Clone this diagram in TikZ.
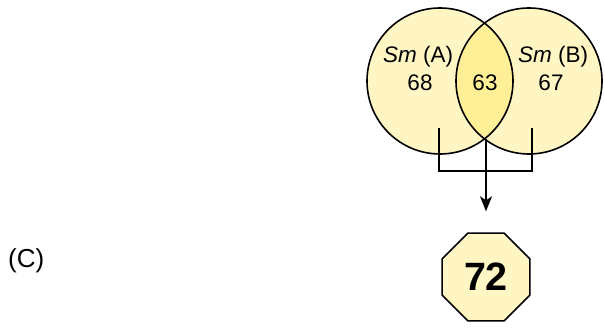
\documentclass[tikz,border=0pt]{standalone}
\usepackage{fontspec}
\setmainfont{Liberation Sans}
\usetikzlibrary{shapes.geometric,arrows.meta}

\definecolor{setyellow}{RGB}{255,246,196}
\definecolor{lensyellow}{RGB}{255,239,150}

\tikzset{
  setline/.style={line width=1.6pt, black},
  settext/.style={anchor=base, inner sep=0pt, font=\fontsize{22.5}{24}\selectfont},
}

\begin{document}
\begin{tikzpicture}[x=1pt, y=-1pt]
	\useasboundingbox (0,0) rectangle (605,328);

	% the two sets and their overlap
	\fill[setyellow] (440,81) circle (73) (529,81) circle (73);
	\begin{scope}
		\clip (440,81) circle (73);
		\fill[lensyellow] (529,81) circle (73);
	\end{scope}
	\node[circle, setline, draw, minimum size=146pt, inner sep=0pt] (setA) at (440,81) {};
	\node[circle, setline, draw, minimum size=146pt, inner sep=0pt] (setB) at (529,81) {};

	\node[settext] (nameA) at (418,63) {\textit{Sm} (A)};
	\node[settext] (countA) at (420,91) {68};
	\node[settext] (countAB) at (485,91) {63};
	\node[settext] (nameB) at (553,63) {\textit{Sm} (B)};
	\node[settext] (countB) at (551,91) {67};

	% the union
	\node[regular polygon, regular polygon sides=8, draw, setline, fill=setyellow,
		minimum size=95pt, inner sep=0pt, font=\fontsize{39.5}{40}\selectfont\bfseries] (union) at (486,277) {72};

	% bracket and arrow
	\coordinate (legA) at (439,128);
	\coordinate (legB) at (532,128);
	\coordinate (meet) at (486,139);
	\draw[setline] (legA) -- ++(0,43) -| (legB);
	\draw[setline, -{Stealth[length=15pt, width=12pt, inset=4pt]}, shorten >=21pt] (meet) -- (union.north);

	\node[anchor=base west, inner sep=0pt, font=\fontsize{26}{28}\selectfont] (panel) at (8,268) {(C)};
\end{tikzpicture}
\end{document}
